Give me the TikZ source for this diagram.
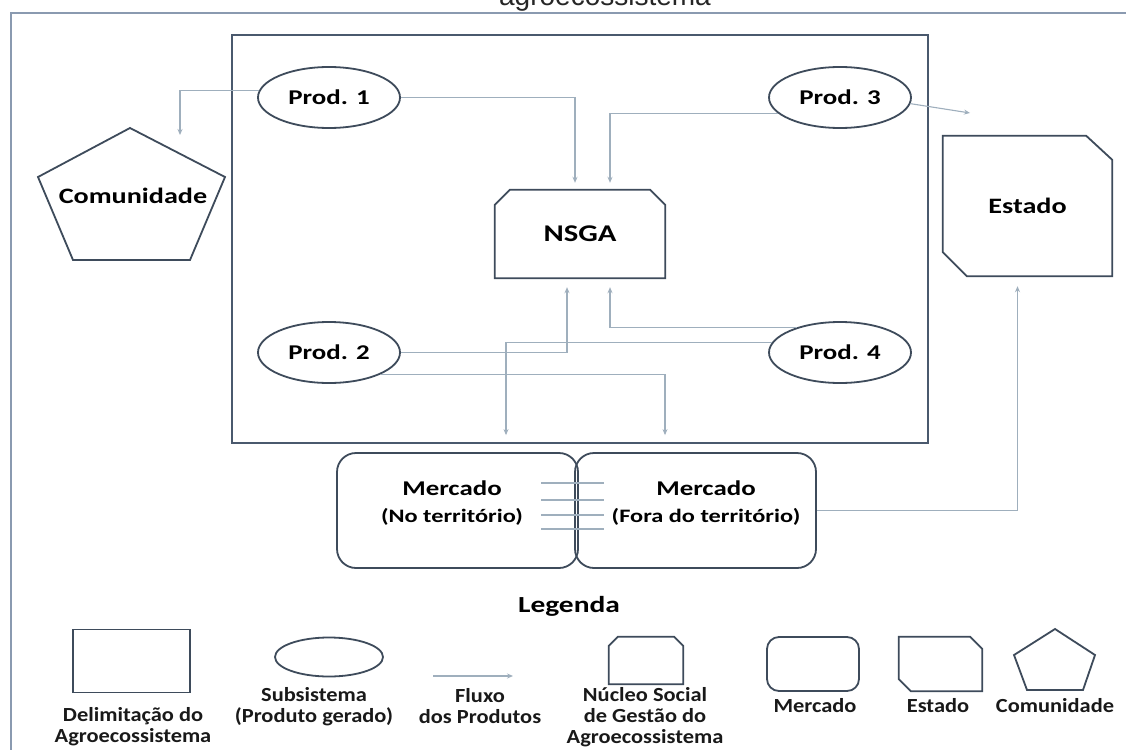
\documentclass[tikz,border=0pt]{standalone}
\usepackage{fontspec}
\usetikzlibrary{shapes.geometric,arrows.meta,calc}
\newfontfamily\mainf[FakeStretch=1.28]{Carlito}
\newfontfamily\legf[FakeStretch=1.12]{Carlito}
\newfontfamily\titlef{Liberation Sans}
\definecolor{edge}{HTML}{3E4B5B}
\definecolor{frame}{HTML}{4A596D}
\definecolor{outerc}{HTML}{8A9AB0}
\definecolor{flow}{HTML}{9FAFBD}
\begin{document}
\begin{tikzpicture}[x=1pt,y=-1pt,
  shp/.style={draw=edge,line width=1.8pt,line join=miter},
  ell/.style={ellipse,draw=edge,line width=1.8pt,minimum width=142pt,minimum height=61pt,inner sep=0pt,font=\mainf\bfseries\fontsize{21}{25}\selectfont},
  flowln/.style={draw=flow,line width=1.1pt,-{Stealth[length=6pt,width=5pt]}},
  stripe/.style={draw=flow,line width=1.1pt},
  box/.style={rectangle,draw=none,inner sep=0pt},
  mlab/.style={font=\mainf\bfseries\fontsize{21}{25}\selectfont,align=center,inner sep=0pt},
  llab/.style={font=\legf\bfseries\fontsize{20}{21}\selectfont,align=center,inner sep=0pt,text=black!90}
]
\useasboundingbox (0,0) rectangle (1126,749);
\clip (0,0) rectangle (1126,749);
\fill[white] (0,0) rectangle (1126,749);

% partly visible title
\node[font=\titlef\fontsize{28}{28}\selectfont,anchor=base,text=black!85,inner sep=0pt] (ttl) at (605,6) {agroecossistema};

% outer frame
\draw[draw=outerc,line width=2pt] (1140,13) -- (11,13) -- (11,760);

% agroecosystem boundary
\node[rectangle,draw=frame,line width=2.5pt,minimum width=696pt,minimum height=408pt,inner sep=0pt] (agro) at (580,239) {};

% subsystems
\node[ell] (p1) at (329,97.5) {Prod. 1};
\node[ell] (p3) at (840,97.5) {Prod. 3};
\node[ell] (p2) at (329,352.5) {Prod. 2};
\node[ell] (p4) at (840,352.5) {Prod. 4};

% NSGA
\node[box,minimum width=170pt,minimum height=88pt,font=\mainf\bfseries\fontsize{24}{28}\selectfont] (nsga) at (580,234) {NSGA};
\draw[shp] (nsga.south west) -- ($(nsga.north west)+(0,15)$) -- ($(nsga.north west)+(15,0)$) -- ($(nsga.north east)+(-15,0)$) -- ($(nsga.north east)+(0,15)$) -- (nsga.south east) -- cycle;

% Estado
\node[box,minimum width=169pt,minimum height=140pt,font=\mainf\bfseries\fontsize{22}{26}\selectfont] (estado) at (1027.5,206) {Estado};
\draw[shp] (estado.north west) -- ($(estado.north east)+(-26,0)$) -- ($(estado.north east)+(0,24)$) -- (estado.south east) -- ($(estado.south west)+(24,0)$) -- ($(estado.south west)+(0,-24)$) -- cycle;

% Comunidade
\coordinate (c1) at (130,128);
\coordinate (c2) at (225,177);
\coordinate (c3) at (190,260);
\coordinate (c4) at (73,260);
\coordinate (c5) at (38,177);
\draw[shp] (c1) -- (c2) -- (c3) -- (c4) -- (c5) -- cycle;
\node[font=\mainf\bfseries\fontsize{22}{26}\selectfont,inner sep=0pt] (com) at (133,196) {Comunidade};

% Mercados
\node[rectangle,rounded corners=19pt,draw=edge,line width=1.8pt,minimum width=241pt,minimum height=115pt,inner sep=0pt] (mercL) at (457.5,510.5) {};
\node[rectangle,rounded corners=19pt,draw=edge,line width=1.8pt,minimum width=241pt,minimum height=115pt,inner sep=0pt] (mercR) at (695.5,510.5) {};
\node[mlab] (mercLt) at (452,503) {Mercado\\[2pt]{\fontsize{19}{23}\selectfont(No território)}};
\node[mlab] (mercRt) at (706,503) {Mercado\\[2pt]{\fontsize{19}{23}\selectfont(Fora do território)}};
\foreach \yy in {483,500,515,529} \draw[stripe] (541,\yy) -- (604,\yy);

% flows
\coordinate (tipCom) at (180,135);
\coordinate (tipEst) at (970,113);
\draw[flowln] (p1.174) -| (tipCom);
\draw[flowln] (p1.east) -| ($(nsga.north)+(-5,-7)$);
\draw[flowln] (p3.194) -| ($(nsga.north)+(30,-7)$);
\draw[flowln] (p3.-5) -- (tipEst);
\draw[flowln] (p2.east) -| ($(nsga.south)+(-13,9)$);
\draw[flowln] (p4.150) -| ($(nsga.south)+(30,9)$);
\draw[flowln] (p4.172) -| ($(mercL.north)+(48.5,-17)$);
\draw[flowln] (p2.-23) -| ($(mercR.north)+(-30.5,-17)$);
\draw[flowln] (mercR.east) -| ($(estado.south)+(-10,10)$);

% Legenda
\node[font=\mainf\bfseries\fontsize{23}{27}\selectfont,anchor=base,inner sep=0pt] (leg) at (569,612) {Legenda};

\node[rectangle,draw=edge,line width=1.8pt,minimum width=117pt,minimum height=63pt,inner sep=0pt] (lgA) at (131.5,661) {};
\node[llab] (lgAt) at (133,727) {Delimitação do\\Agroecossistema};

\node[ellipse,draw=edge,line width=1.8pt,minimum width=108pt,minimum height=39pt,inner sep=0pt] (lgB) at (329,657) {};
\node[llab] (lgBt) at (314,706.5) {Subsistema\\(Produto gerado)};

\coordinate (lgC1) at (433,676);
\coordinate (lgC2) at (513,676);
\draw[flowln] (lgC1) -- (lgC2);
\node[llab] (lgCt) at (480,706.5) {Fluxo\\dos Produtos};

\node[box,minimum width=74pt,minimum height=47pt] (lgD) at (646,660.5) {};
\draw[shp] (lgD.south west) -- ($(lgD.north west)+(0,9)$) -- ($(lgD.north west)+(9,0)$) -- ($(lgD.north east)+(-9,0)$) -- ($(lgD.north east)+(0,9)$) -- (lgD.south east) -- cycle;
\node[llab] (lgDt) at (645,717) {Núcleo Social\\de Gestão do\\Agroecossistema};

\node[rectangle,rounded corners=12pt,draw=edge,line width=1.8pt,minimum width=92pt,minimum height=54pt,inner sep=0pt] (lgE) at (813,664) {};
\node[llab,anchor=base] (lgEt) at (815,712) {Mercado};

\node[box,minimum width=83pt,minimum height=54pt] (lgF) at (940.5,664) {};
\draw[shp] (lgF.north west) -- ($(lgF.north east)+(-12,0)$) -- ($(lgF.north east)+(0,12)$) -- (lgF.south east) -- ($(lgF.south west)+(12,0)$) -- ($(lgF.south west)+(0,-12)$) -- cycle;
\node[llab,anchor=base] (lgFt) at (938,712) {Estado};

\coordinate (g1) at (1055,629);
\coordinate (g2) at (1095,655);
\coordinate (g3) at (1083,690);
\coordinate (g4) at (1027,690);
\coordinate (g5) at (1014,655);
\draw[shp] (g1) -- (g2) -- (g3) -- (g4) -- (g5) -- cycle;
\node[llab,anchor=base] (lgGt) at (1055,712) {Comunidade};
\end{tikzpicture}
\end{document}
